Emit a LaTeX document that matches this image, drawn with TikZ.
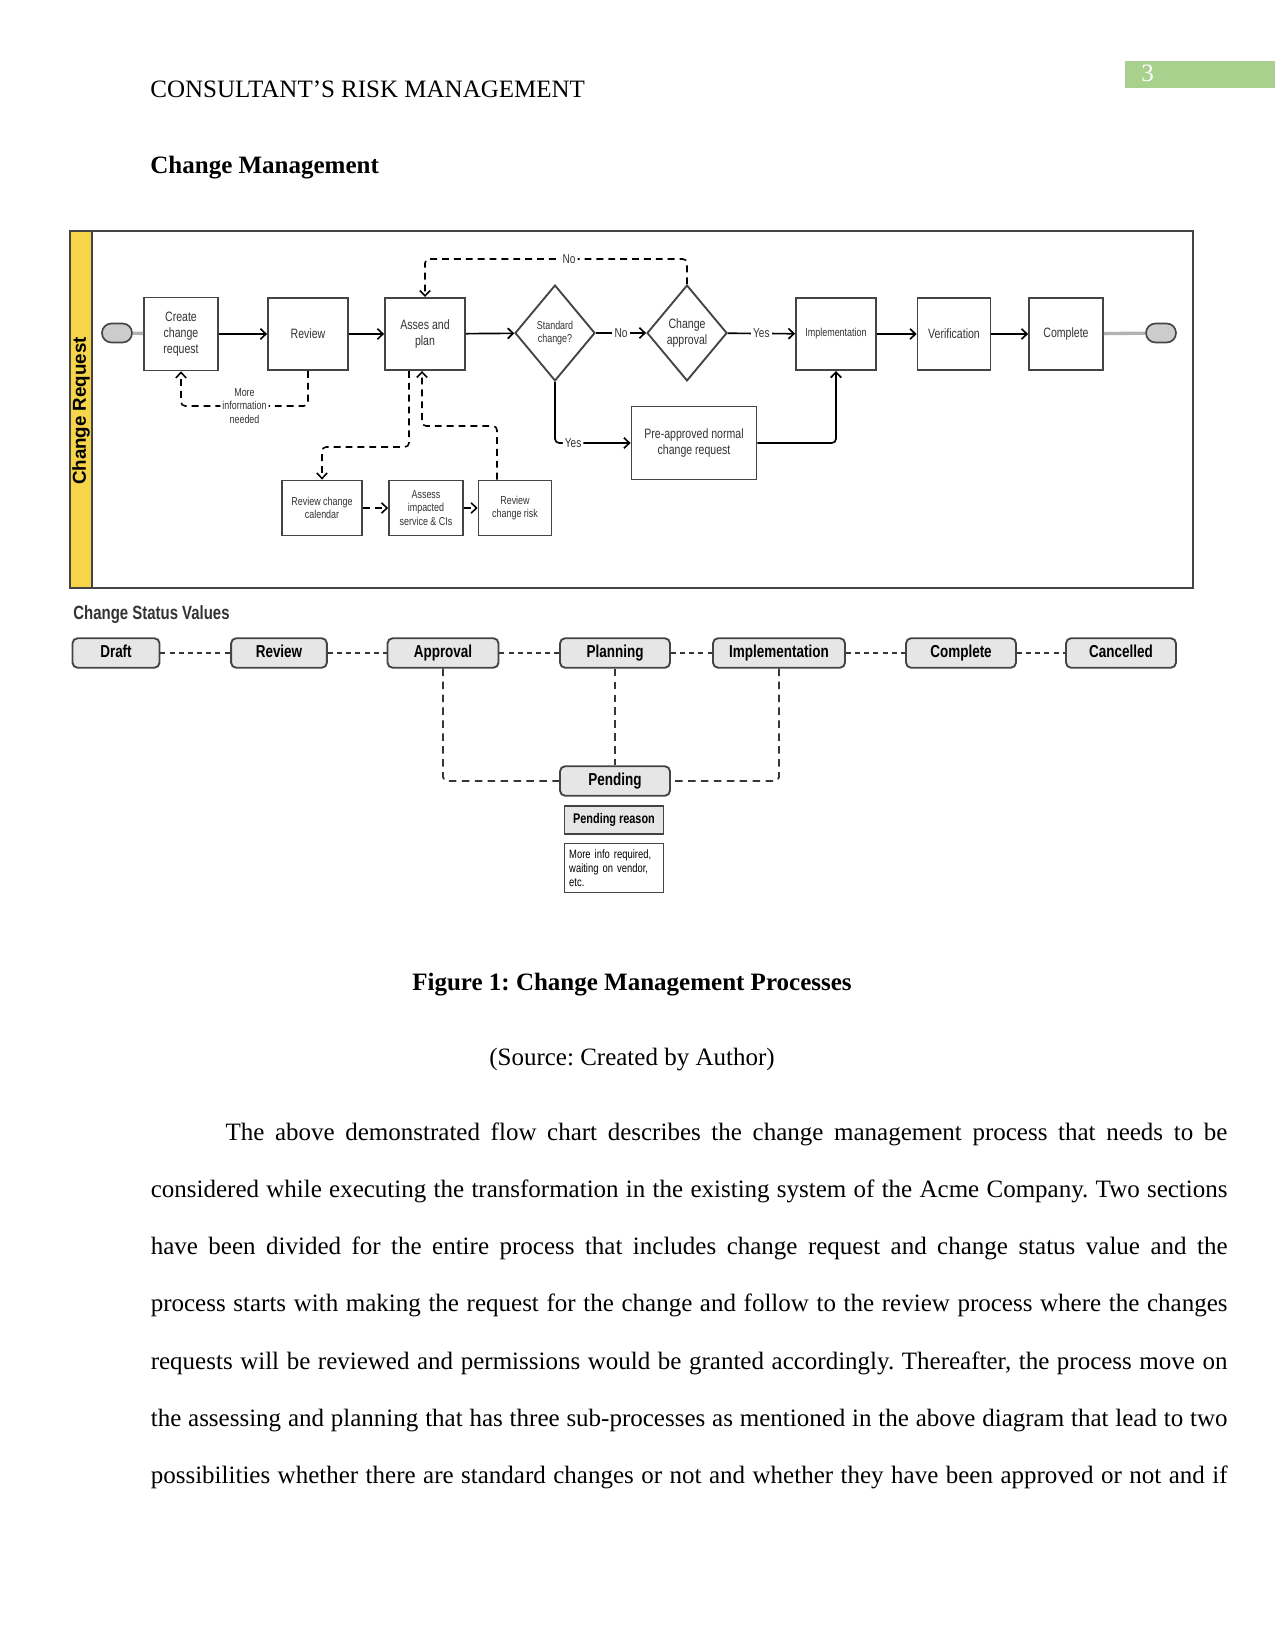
\documentclass[tikz,border=0pt]{standalone}
\usepackage{fontspec}
\setmainfont{Liberation Serif}
\newfontfamily\dfont{Liberation Sans}[FakeStretch=0.78]
\newfontfamily\lanefont{Liberation Sans}
\usetikzlibrary{shapes.geometric,arrows.meta}
\definecolor{pgreen}{HTML}{A9D18E}
\definecolor{laney}{HTML}{F7D54A}
\definecolor{boxc}{HTML}{444444}
\definecolor{txtc}{HTML}{333333}
\definecolor{sfill}{HTML}{E6E6E6}
\newcommand\jline[2]{\makebox[#1][s]{#2}}
\tikzset{
  box/.style={draw=boxc, line width=0.9pt, fill=white, inner sep=1pt, align=center, text=txtc,
     font=\dfont\fontsize{6.5}{7.6}\selectfont},
  dia/.style={draw=boxc, line width=0.9pt, fill=white, shape=diamond, inner sep=0pt,
     minimum width=38.4pt, minimum height=46pt, align=center, text=txtc},
  term/.style={draw=boxc, line width=0.8pt, fill=gray!40, rounded corners=4.5pt,
     minimum width=14.4pt, minimum height=9.1pt, inner sep=0pt},
  gline/.style={draw=gray!60, line width=1.6pt},
  arr/.style={draw=black, line width=0.8pt, -{Straight Barb[length=2.6pt,width=5pt]}},
  darr/.style={draw=black, line width=0.75pt, dash pattern=on 3.3pt off 2.4pt,
     rounded corners=2pt, -{Straight Barb[length=2.6pt,width=5pt]}},
  lbl/.style={fill=white, inner sep=1pt, text=txtc, font=\dfont\fontsize{5.5}{6.6}\selectfont, align=center},
  ynlbl/.style={lbl, font=\dfont\fontsize{6.2}{7}\selectfont},
  sbox/.style={draw=boxc, line width=0.9pt, fill=sfill, rounded corners=2.5pt, minimum height=14.2pt,
     inner sep=0pt, text height=6.1pt, text depth=1.6pt,
     font=\dfont\bfseries\fontsize{8.3}{10}\selectfont, text=black},
  sdash/.style={draw=boxc!80!black, line width=1.3pt, dash pattern=on 2.4pt off 2pt},
  vdash/.style={draw=boxc!80!black, line width=0.85pt, dash pattern=on 3.6pt off 2.6pt, rounded corners=2pt},
  body/.style={anchor=base west, inner sep=0pt, font=\fontsize{12}{14}\selectfont},
}
\begin{document}
\frenchspacing
\begin{tikzpicture}[x=0.48pt,y=-0.48pt]
\useasboundingbox (0,0) rectangle (1275,1650);
% page header
\fill[pgreen] (1125,61) rectangle (1275,88);
\node[body, text=white] (pnum) at (1141,82) {3};
\node[body] (head) at (150,98) {CONSULTANT’S RISK MANAGEMENT};
\node[body, font=\fontsize{12}{14}\selectfont\bfseries] (sect) at (150,173.5) {Change Management};

% frame and lane
\draw[draw=boxc, line width=1pt] (70,231) rectangle (1193,588);
\filldraw[fill=laney, draw=boxc, line width=1pt] (70,231) rectangle (92,588);
\node[rotate=90, font=\lanefont\bfseries\fontsize{9}{10}\selectfont, inner sep=0pt] (lane) at (81,411) {Change Request};

% top row
\node[term] (st) at (117,333) {};
\node[box, minimum width=35.5pt, minimum height=35pt] (create) at (181,334) {Create\\change\\request};
\node[box, minimum width=38.4pt, minimum height=34.6pt] (review) at (308,334) {Review};
\node[box, minimum width=38.4pt, minimum height=34.6pt] (asses) at (425,334) {Asses and\\plan};
\node[dia, font=\dfont\fontsize{5.5}{6.6}\selectfont] (std) at (555,333) {Standard\\change?};
\node[dia, font=\dfont\fontsize{6.5}{7.6}\selectfont] (appr) at (687,333) {Change\\approval};
\node[box, minimum width=38.4pt, minimum height=34.6pt, font=\dfont\fontsize{5.5}{6.6}\selectfont] (impl) at (836,334) {Implementation};
\node[box, minimum width=35pt, minimum height=34.6pt] (verif) at (954,334) {Verification};
\node[box, minimum width=35.5pt, minimum height=34.6pt] (comp) at (1066,334) {Complete};
\node[term] (en) at (1161,333) {};
\node[box, minimum width=60pt, minimum height=35pt] (pre) at (694,443) {Pre-approved normal\\change request};

% sub-process row
\node[box, minimum width=38.4pt, minimum height=26.4pt, font=\dfont\fontsize{5.5}{6.6}\selectfont] (cal) at (322,508) {Review change\\calendar};
\node[box, minimum width=35.5pt, minimum height=26.4pt, font=\dfont\fontsize{5.5}{6.6}\selectfont] (impact) at (426,508) {Assess\\impacted\\service \& CIs};
\node[box, minimum width=35pt, minimum height=26.4pt, font=\dfont\fontsize{5.5}{6.6}\selectfont] (risk) at (515,508) {Review\\change risk};

% helper coordinates
\coordinate (ytop) at (0,259);
\coordinate (ymore) at (0,406);
\coordinate (ysub1) at (0,447);
\coordinate (ysub2) at (0,426);
\coordinate (xa) at (409,0);
\coordinate (xb) at (422,0);
\coordinate (xr) at (497,0);

% top row connectors
\draw[gline] (st) -- (create);
\draw[arr] (create) -- (review);
\draw[arr] (review) -- (asses);
\draw[arr] (asses) -- (std);
\draw[arr] (std) -- node[ynlbl]{No} (appr);
\draw[arr] (appr) -- node[ynlbl]{Yes} (impl);
\draw[arr] (impl) -- (verif);
\draw[arr] (verif) -- (comp);
\draw[gline] (comp) -- (en);
\draw[darr] (appr.north) -- (appr.north |- ytop) -- node[ynlbl, pos=0.45]{No} (asses.north |- ytop) -- (asses.north);
\draw[darr] (review.south) -- (review.south |- ymore) -- node[lbl]{More\\information\\needed} (create.south |- ymore) -- (create.south);
\draw[arr, rounded corners=2pt] (std.south) |- node[ynlbl, pos=0.62]{Yes} (pre.west);
\draw[arr, rounded corners=2pt] (pre.east) -| (impl.south);

% sub-process connectors
\draw[darr] (asses.south -| xa) -- (xa |- ysub1) -- (cal.north |- ysub1) -- (cal.north);
\draw[darr] (risk.north -| xr) -- (xr |- ysub2) -- (xb |- ysub2) -- (asses.south -| xb);
\draw[darr] (cal) -- (impact);
\draw[darr] (impact) -- (risk);

% change status values
\node[anchor=west, inner sep=0pt, font=\dfont\bfseries\fontsize{9.2}{11}\selectfont, text=txtc] (csv) at (73,615) {Change Status Values};
\node[sbox, minimum width=41.8pt] (draft) at (116,653) {Draft};
\node[sbox, minimum width=46pt] (srev) at (279,653) {Review};
\node[sbox, minimum width=53.3pt] (sappr) at (443,653) {Approval};
\node[sbox, minimum width=52.8pt] (splan) at (615,653) {Planning};
\node[sbox, minimum width=63.4pt] (simpl) at (779,653) {Implementation};
\node[sbox, minimum width=52.8pt] (scomp) at (961,653) {Complete};
\node[sbox, minimum width=52.8pt] (scanc) at (1121,653) {Cancelled};
\node[sbox, minimum width=52.8pt] (pend) at (615,781) {Pending};
\node[draw=boxc, line width=0.9pt, fill=sfill, minimum width=47.5pt, minimum height=13.4pt, inner sep=0pt,
   font=\dfont\bfseries\fontsize{6.7}{7.5}\selectfont] (preason) at (614,820) {Pending reason};
\node[draw=boxc, line width=0.9pt, fill=white, minimum width=47.5pt, minimum height=23.5pt, inner sep=0pt,
   text width=43pt, align=left, font=\dfont\fontsize{5.8}{6.6}\selectfont] (pinfo) at (614,868) {More info required,\\waiting on vendor,\\etc.};
\draw[sdash] (draft) -- (srev);
\draw[sdash] (srev) -- (sappr);
\draw[sdash] (sappr) -- (splan);
\draw[sdash] (splan) -- (simpl);
\draw[sdash] (simpl) -- (scomp);
\draw[sdash] (scomp) -- (scanc);
\draw[vdash] (sappr.south) |- (pend.west);
\draw[vdash] (splan.south) -- (pend.north);
\draw[vdash] (simpl.south) |- (pend.east);

% caption
\node[anchor=base, inner sep=0pt, font=\fontsize{12}{14}\selectfont\bfseries] (cap) at (632,990.5) {Figure 1: Change Management Processes};
\node[anchor=base, inner sep=0pt, font=\fontsize{12}{14}\selectfont] (src) at (632,1065.5) {(Source: Created by Author)};

% paragraph
\node[body] (l1) at (225.1,1140) {\jline{480.9pt}{The above demonstrated flow chart describes the change management process that needs to be}};
\node[body] (l2) at (150.4,1197.3) {\jline{516.8pt}{considered while executing the transformation in the existing system of the Acme Company. Two sections}};
\node[body] (l3) at (150.4,1254.6) {\jline{516.8pt}{have been divided for the entire process that includes change request and change status value and the}};
\node[body] (l4) at (150.4,1311.9) {\jline{516.8pt}{process starts with making the request for the change and follow to the review process where the changes}};
\node[body] (l5) at (150.4,1369.2) {\jline{516.8pt}{requests will be reviewed and permissions would be granted accordingly. Thereafter, the process move on}};
\node[body] (l6) at (150.4,1426.5) {\jline{516.8pt}{the assessing and planning that has three sub-processes as mentioned in the above diagram that lead to two}};
\node[body] (l7) at (150.4,1483.8) {\jline{516.8pt}{possibilities whether there are standard changes or not and whether they have been approved or not and if}};
\end{tikzpicture}
\end{document}
